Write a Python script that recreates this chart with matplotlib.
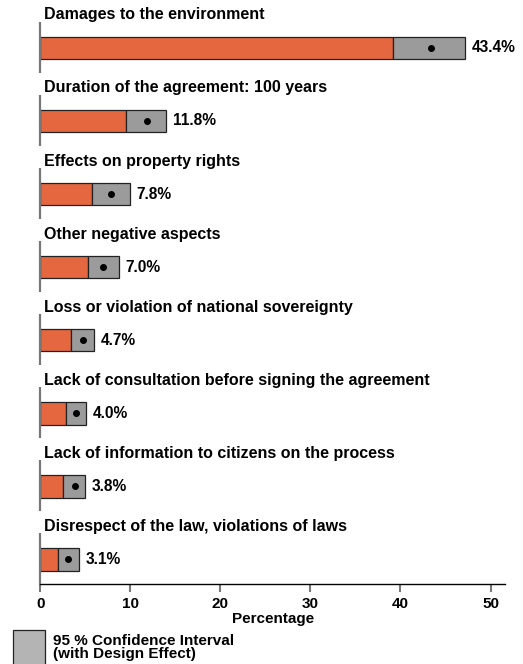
import matplotlib.pyplot as plt
from matplotlib.patches import Rectangle

plt.rcParams['font.family'] = ['Liberation Sans', 'DejaVu Sans']

categories = [
    'Damages to the environment',
    'Duration of the agreement: 100 years',
    'Effects on property rights',
    'Other negative aspects',
    'Loss or violation of national sovereignty',
    'Lack of consultation before signing the agreement',
    'Lack of information to citizens on the process',
    'Disrespect of the law, violations of laws',
]
estimates = [43.4, 11.8, 7.8, 7.0, 4.7, 4.0, 3.8, 3.1]
ci_low = [39.2, 9.5, 5.7, 5.3, 3.4, 2.8, 2.5, 1.9]
ci_high = [47.2, 14.0, 9.9, 8.7, 6.0, 5.1, 5.0, 4.3]

orange = '#e4673f'
ci_gray = '#9b9b9b'
legend_gray = '#b4b4b4'

fig = plt.figure(figsize=(5.23, 6.64), dpi=100)
ax = fig.add_axes([0.0774, 0.12, 0.888, 0.847])

ypos = list(range(len(categories)))
bar_h = 0.31

# point estimate region up to lower CI bound, then the CI box
ax.barh(ypos, ci_low, height=bar_h, color=orange, edgecolor='#222222', linewidth=0.9)
widths = [h - l for l, h in zip(ci_low, ci_high)]
ax.barh(ypos, widths, left=ci_low, height=bar_h, color=ci_gray,
        edgecolor='#222222', linewidth=0.9)
ax.plot(estimates, ypos, 'o', color='black', markersize=4, zorder=5)

for y, cat, est, hi in zip(ypos, categories, estimates, ci_high):
    ax.text(hi + 0.7, y, f'{est:.1f}%', va='center', ha='left',
            fontsize=11.2, fontweight='bold')
    ax.text(0.35, y - 0.452, cat, va='center', ha='left', fontsize=11.5,
            fontweight='bold', clip_on=False)
    # broken left axis: one segment per category
    ax.plot([0, 0], [y - 0.356, y + 0.342], color='#777777', lw=1.6,
            solid_capstyle='butt', clip_on=False, zorder=4)

ax.set_xlim(0, 51.6)
ax.set_ylim(len(categories) - 1 + 0.342, -0.356)
ax.set_xticks([0, 10, 20, 30, 40, 50])
ax.set_yticks([])
for s in ['top', 'right', 'left']:
    ax.spines[s].set_visible(False)
ax.spines['bottom'].set_linewidth(1.0)
ax.tick_params(axis='x', direction='out', length=6, width=1.5, color='#777777',
               labelsize=11, pad=3)
for lbl in ax.get_xticklabels():
    lbl.set_fontweight('bold')
ax.set_xlabel('Percentage', fontsize=11, fontweight='bold', labelpad=1)

# legend swatch for the confidence interval
fig.patches.append(Rectangle((12.5 / 523, -0.01), 32.5 / 523, (664 - 630) / 664 + 0.01,
                             transform=fig.transFigure, facecolor=legend_gray,
                             edgecolor='#222222', linewidth=0.9))
fig.text(53 / 523, 1 - 641 / 664, '95 % Confidence Interval', fontsize=11,
         fontweight='bold', va='center', ha='left')
fig.text(53 / 523, 1 - 654 / 664, '(with Design Effect)', fontsize=11,
         fontweight='bold', va='center', ha='left')

fig.savefig('out.png', dpi=100)
